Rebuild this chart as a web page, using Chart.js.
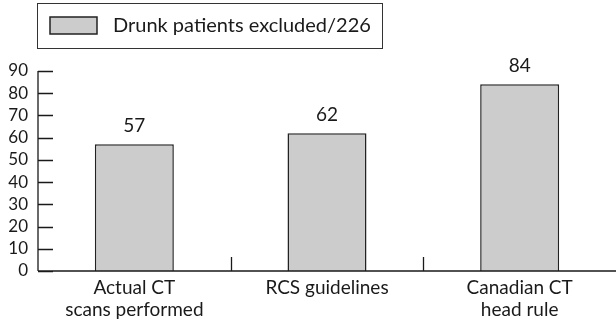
<!DOCTYPE html>
<html>
<head>
<meta charset="utf-8">
<script src="https://cdn.jsdelivr.net/npm/chart.js@4"></script>
<style>
  html, body { margin: 0; padding: 0; background: #fff; }
  #wrap { width: 616px; height: 326px; }
</style>
</head>
<body>
<div id="wrap"><canvas id="c" width="616" height="326"></canvas></div>
<script>
// CT scan counts by decision method
const categories = [["Actual CT", "scans performed"], ["RCS guidelines"], ["Canadian CT", "head rule"]];
const seriesLabel = "Drunk patients excluded/226";
const values = [57, 62, 84];
const yTicks = [0, 10, 20, 30, 40, 50, 60, 70, 80, 90];

const FONT = "Lato, 'DejaVu Sans', sans-serif";
const INK = "#1a1a1a";
const BAR_FILL = "#cccccc";

// Framed legend in the top-left corner
const framedLegend = {
  id: "framedLegend",
  afterDraw(chart) {
    const ctx = chart.ctx;
    const ds = chart.data.datasets[0];
    ctx.save();
    ctx.strokeStyle = "#333";
    ctx.lineWidth = 1;
    ctx.strokeRect(37.5, 3.5, 345, 45);
    ctx.fillStyle = ds.backgroundColor;
    ctx.fillRect(50, 17, 47, 17);
    ctx.lineWidth = 1.5;
    ctx.strokeStyle = ds.borderColor;
    ctx.strokeRect(50, 17, 47, 17);
    ctx.fillStyle = INK;
    ctx.font = "20px " + FONT;
    ctx.textBaseline = "alphabetic";
    ctx.textAlign = "left";
    ctx.fillText(ds.label, 113, 32);
    ctx.restore();
  }
};

// Inward tick marks on both axes, and value labels over the bars
const axisMarks = {
  id: "axisMarks",
  afterDatasetsDraw(chart) {
    const ctx = chart.ctx;
    const x = chart.scales.x, y = chart.scales.y;
    const area = chart.chartArea;
    ctx.save();
    ctx.strokeStyle = INK;
    ctx.lineWidth = 1.3;
    ctx.beginPath();
    // y axis line and inner ticks
    ctx.moveTo(area.left, area.top);
    ctx.lineTo(area.left, area.bottom);
    y.ticks.forEach(t => {
      const py = Math.round(y.getPixelForValue(t.value)) + 0.5;
      ctx.moveTo(area.left, py);
      ctx.lineTo(area.left + 15, py);
    });
    // x axis line and category separators
    ctx.moveTo(area.left, area.bottom);
    ctx.lineTo(area.right, area.bottom);
    for (let i = 0; i < categories.length - 1; i++) {
      const px = Math.round((x.getPixelForTick(i) + x.getPixelForTick(i + 1)) / 2) + 0.5;
      ctx.moveTo(px, area.bottom);
      ctx.lineTo(px, area.bottom - 14);
    }
    ctx.stroke();

    // values over bars
    const meta = chart.getDatasetMeta(0);
    ctx.fillStyle = INK;
    ctx.font = "19px " + FONT;
    ctx.textAlign = "center";
    ctx.textBaseline = "alphabetic";
    meta.data.forEach((bar, i) => {
      ctx.fillText(String(chart.data.datasets[0].data[i]), bar.x, bar.y - 12);
    });
    ctx.restore();
  }
};

new Chart(document.getElementById("c"), {
  type: "bar",
  data: {
    labels: categories,
    datasets: [{
      label: seriesLabel,
      data: values,
      backgroundColor: BAR_FILL,
      borderColor: "#222",
      borderWidth: 1.5,
      categoryPercentage: 1,
      barPercentage: 0.41
    }]
  },
  options: {
    responsive: false,
    animation: false,
    devicePixelRatio: 1,
    layout: { padding: { top: 71, right: 0, left: 0, bottom: 0 } },
    plugins: { legend: { display: false }, tooltip: { enabled: false } },
    scales: {
      x: {
        offset: true,
        grid: { display: false, drawTicks: false },
        border: { display: false },
        ticks: { color: INK, font: { family: FONT, size: 19, lineHeight: 1.16 }, padding: 6, maxRotation: 0, autoSkip: false },
        afterFit(s) { s.height = 55; }
      },
      y: {
        min: 0,
        max: 90,
        afterBuildTicks(s) { s.ticks = yTicks.map(v => ({ value: v })); },
        grid: { display: false, drawTicks: false },
        border: { display: false },
        ticks: { color: INK, font: { family: FONT, size: 17 }, padding: 10, autoSkip: false },
        afterFit(s) { s.width = 38; }
      }
    }
  },
  plugins: [framedLegend, axisMarks]
});
</script>
</body>
</html>
